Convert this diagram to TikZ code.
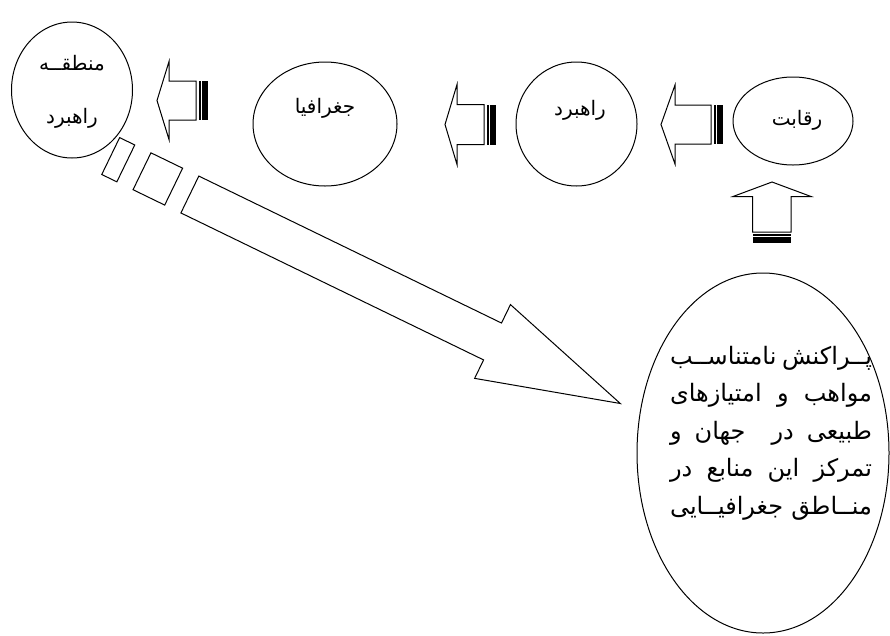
\documentclass[tikz,border=0pt]{standalone}
\usepackage{fontspec}
\usetikzlibrary{shapes.geometric}
\newfontfamily\arabicfont[Script=Arabic]{DejaVu Sans}
\TeXXeTstate=1
\begin{document}
\begin{tikzpicture}[x=1pt,y=-1pt,
  ell/.style={draw, line width=1pt, ellipse, inner sep=0pt},
  blk/.style={draw, line width=1pt, fill=white, line join=miter},
  lbl/.style={font=\arabicfont\fontsize{20}{22}\selectfont, inner sep=0pt},
  bigtxt/.style={font=\arabicfont\fontsize{24}{37.5}\selectfont, align=center, inner sep=0pt}
]
\useasboundingbox (0,0) rectangle (890,635);

% ellipses
\node[ell, minimum width=121pt, minimum height=136pt] (mr) at (72,90) {};
\node[ell, minimum width=144pt, minimum height=124pt] (geo) at (325,124) {};
\node[ell, minimum width=121pt, minimum height=124pt] (rah) at (576.5,124) {};
\node[ell, minimum width=120pt, minimum height=88pt] (raq) at (793,121) {};
\node[ell, minimum width=252pt, minimum height=360pt] (big) at (763,453) {};

% labels
\node[lbl] (mr1) at (72,63) {\beginR منطقــه\endR};
\node[lbl] (mr2) at (72,118) {\beginR راهبرد\endR};
\node[lbl] (geot) at (325,108) {\beginR جغرافیا\endR};
\node[lbl] (raht) at (580,110) {\beginR راهبرد\endR};
\node[lbl] (raqt) at (797,120) {\beginR رقابت\endR};
\node[bigtxt] (bigt) at (771,433) {%
\makebox[202pt][s]{\beginR پــراکنش نامتناســب\endR}\\
\makebox[202pt][s]{\beginR مواهب و امتیازهای\endR}\\
\makebox[202pt][s]{\beginR طبیعی در \ جهان و\endR}\\
\makebox[202pt][s]{\beginR تمرکز این منابع در\endR}\\
\makebox[202pt][s]{\beginR منــاطق جغرافیــایی\endR}};

% striped block arrows pointing left
\draw[blk] (157,100.5) -- (169,61.5) -- (169,81) -- (196,81) -- (196,120) -- (169,120) -- (169,139.5) -- cycle;
\fill (198.5,81) rectangle (200.5,120);
\fill (202,81) rectangle (207.5,120);

\draw[blk] (445,124.5) -- (457,84.5) -- (457,104.5) -- (484,104.5) -- (484,144.5) -- (457,144.5) -- (457,164.5) -- cycle;
\fill (486.5,104.5) rectangle (488.5,144.5);
\fill (490,104.5) rectangle (495.5,144.5);

\draw[blk] (661,124.5) -- (675,85) -- (675,105) -- (711,105) -- (711,144) -- (675,144) -- (675,164) -- cycle;
\fill (713.5,105) rectangle (715.5,144);
\fill (717,105) rectangle (722.5,144);

% striped block arrow pointing up
\draw[blk] (772,182) -- (811,196.5) -- (791,196.5) -- (791,232) -- (752.5,232) -- (752.5,196.5) -- (733,196.5) -- cycle;
\fill (752.5,234) rectangle (791,235.5);
\fill (752.5,237) rectangle (791,243);

% broken (dashed) block arrow
\begin{scope}[shift={(189.85,194.5)}, rotate=-25.9]
\draw[blk] (-88,-20.5) rectangle (-71.2,20.5);
\draw[blk] (-53.2,-20.5) rectangle (-18,20.5);
\draw[blk] (0,-20.5) -- (336.5,-20.5) -- (336.5,-41) -- (478.5,0) -- (336.5,41) -- (336.5,20.5) -- (0,20.5) -- cycle;
\end{scope}
\end{tikzpicture}
\end{document}
